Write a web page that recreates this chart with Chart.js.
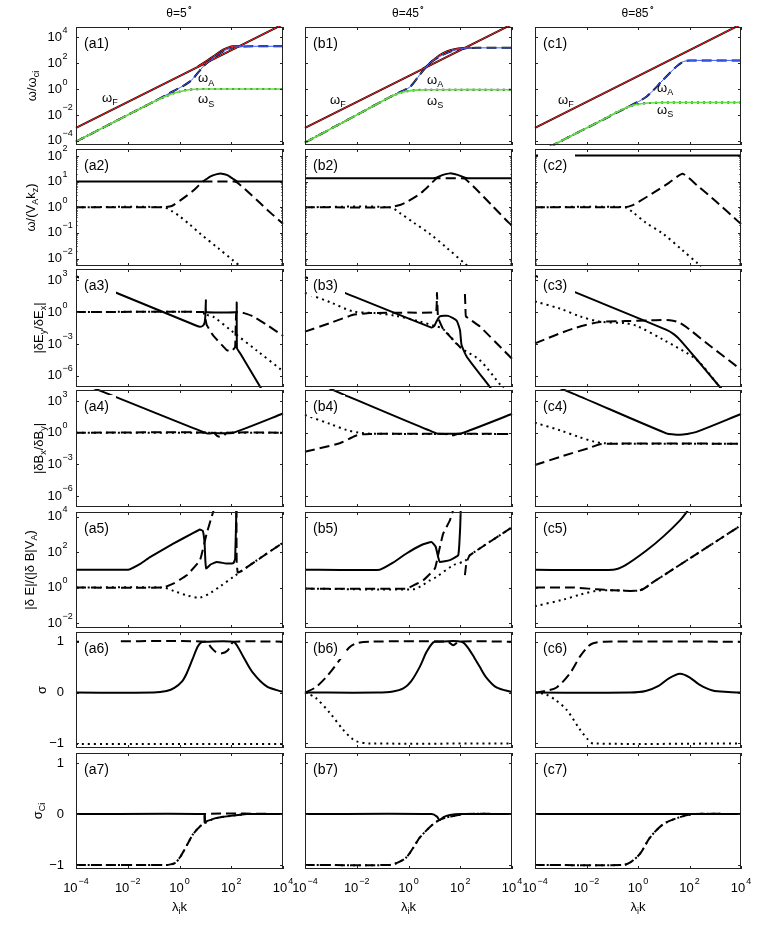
<!DOCTYPE html>
<html>
<head>
<meta charset="utf-8">
<script src="https://cdn.jsdelivr.net/npm/chart.js@4.4.1/dist/chart.umd.min.js"></script>
<style>
  body { margin: 0; background: #fff; }
  #wrap { position: relative; width: 763px; height: 936px; }
  #wrap canvas { position: absolute; left: 0; top: 0; }
</style>
</head>
<body>
<div id="wrap"></div>
<script>
// all series are [log10(lambda_i k), value] ; value is log10(y) on log rows, y on sigma rows
const xTickExp = [-4, -2, 0, 2, 4];
const colTitles = ['θ=5^{∘}', 'θ=45^{∘}', 'θ=85^{∘}'];
const yTitles = ['ω/ω_{ci}', 'ω/(V_{A}k_{z})', '|δE_{y}/δE_{x}|', '|δB_{x}/δB_{y}|',
                 '|δ E|/(|δ B|V_{A})', 'σ', 'σ_{Ci}'];
const rowIsLog = [true, true, true, true, true, false, false];
const yRanges = [[-4.32, 4.79], [-2.29, 2.27], [-7.05, 4.05], [-7.05, 4.05],
                 [-2.28, 4.26], [-1.09, 1.19], [-1.08, 1.2]];
const yTickVals = [[-4, -2, 0, 2, 4], [-2, -1, 0, 1, 2], [-6, -3, 0, 3], [-6, -3, 0, 3],
                   [-2, 0, 2, 4], [-1, 0, 1], [-1, 0, 1]];

// row 1 : omega / omega_ci
const a1Fast = [[-4, -3], [4, 5]];
const a1Bulge = [[0.7, 1.72], [0.86, 1.93], [1.1, 2.24], [1.31, 2.52], [1.5, 2.8], [1.69, 3.04], [1.9, 3.22], [2.08, 3.3], [2.4, 3.31]];
const a1Alfven = [[-4, -4.06], [-2, -2.0], [-1, -0.98], [-0.37, -0.3], [0.41, 0.59], [0.92, 1.75], [1.31, 2.4], [1.69, 2.91], [2.08, 3.22], [2.5, 3.29], [4, 3.3]];
const a1Slow = [[-4, -4.06], [-2, -2.0], [-1, -0.98], [-0.6, -0.62], [-0.3, -0.38], [0, -0.2], [0.3, -0.07], [0.6, -0.02], [1, 0], [4, 0]];
const b1Fast = [[-4, -3], [4, 5]];
const b1Bulge = [[0.55, 1.56], [0.7, 1.76], [0.95, 2.22], [1.21, 2.63], [1.5, 2.92], [1.73, 3.06], [2.12, 3.17], [2.4, 3.18]];
const b1Alfven = [[-4, -4.13], [-2, -2.0], [-0.72, -0.62], [-0.3, -0.2], [0.05, 0.15], [0.44, 1.11], [0.83, 2.01], [1.34, 2.65], [1.86, 3.04], [2.25, 3.16], [2.7, 3.18], [4, 3.18]];
const b1Slow = [[-4, -4.13], [-2, -2.0], [-1, -0.92], [-0.72, -0.62], [-0.4, -0.35], [-0.1, -0.18], [0.3, -0.08], [0.8, -0.05], [4, -0.05]];
const c1Fast = [[-4, -3], [4, 5]];
const c1Alfven = [[-4, -5.05], [-3.29, -4.32], [-0.31, -1.3], [0.34, -0.57], [0.98, 0.72], [1.5, 1.75], [1.76, 2.12], [2.0, 2.2], [2.5, 2.21], [4, 2.21]];
const c1Slow = [[-4, -5.05], [-3.29, -4.32], [-1.5, -2.5], [-1.1, -2.08], [-0.7, -1.66], [-0.3, -1.32], [0, -1.17], [0.4, -1.08], [1, -1.04], [4, -1.04]];

// row 2 : omega / (V_A k_z)
const a2Solid = [[-4, 1.0], [0.8, 1.0], [0.92, 1.02], [1.2, 1.2], [1.45, 1.29], [1.63, 1.31], [1.85, 1.25], [2.05, 1.12], [2.21, 1.02], [2.35, 1.0], [4, 1.0]];
const a2Dashed = [[-4, 0], [-0.62, 0], [-0.3, 0.05], [0.02, 0.26], [0.5, 0.62], [0.92, 1.0], [1.05, 1.0], [2.1, 1.0], [2.21, 0.98], [2.6, 0.64], [3.0, 0.27], [3.5, -0.2], [4, -0.64]];
const a2Dotted = [[-4, 0], [-0.62, 0], [-0.3, -0.15], [0, -0.35], [0.4, -0.68], [0.79, -1.02], [1.5, -1.6], [2.08, -2.08], [2.35, -2.3]];
const b2Solid = [[-4, 1.13], [0.95, 1.13], [1.08, 1.15], [1.3, 1.25], [1.6, 1.32], [1.9, 1.26], [2.18, 1.15], [2.3, 1.13], [4, 1.13]];
const b2Dashed = [[-4, 0], [-0.72, 0], [-0.3, 0.1], [-0.08, 0.2], [0.44, 0.52], [0.8, 0.85], [1.08, 1.12], [1.2, 1.13], [2.05, 1.13], [2.18, 1.11], [2.6, 0.72], [3.2, 0.1], [3.86, -0.59], [4, -0.71]];
const b2Dotted = [[-4, 0], [-0.72, 0], [-0.3, -0.25], [0.2, -0.6], [0.83, -1.04], [1.5, -1.6], [2.18, -2.2], [2.3, -2.3]];
const c2Solid = [[-4, 2.02], [4, 2.02]];
const c2Dashed = [[-4, 0], [-0.51, 0], [-0.2, 0.08], [0.01, 0.2], [0.53, 0.52], [1.2, 0.95], [1.73, 1.31], [2.3, 0.85], [3.0, 0.25], [3.93, -0.59], [4, -0.65]];
const c2Dotted = [[-4, 0], [-0.51, 0], [-0.2, -0.2], [0.3, -0.6], [0.98, -1.04], [1.7, -1.65], [2.33, -2.2], [2.45, -2.3]];

// row 3 : |dEy/dEx|
const a3Solid = [[-4, 3.37], [0.66, -1.29], [0.8, -1.38], [0.9, -1.3], [0.97, -1.0], [1.0, -0.3], [1.02, 1.1], [1.03, 0], [2.2, 0], [2.21, 0.9], [2.22, -3.4], [2.35, -3.9], [3.11, -7.0], [3.3, -7.8]];
const a3Dashed = [[-4, 0], [0.92, 0], [1.0, -0.6], [1.05, -1.2], [1.3, -2.2], [1.82, -3.57], [2.0, -3.7], [2.15, -3.3], [2.2, 0], [2.5, -0.1], [2.85, -0.41], [3.37, -1.2], [3.95, -2.15], [4, -2.25]];
const a3Dotted = [[-4, 0], [0.92, 0], [1.05, -0.26], [1.31, -0.45], [2.0, -1.75], [3.0, -3.65], [3.95, -5.46], [4, -5.55]];
const b3Solid = [[-4, 3.3], [-2.46, 1.8], [0.89, -1.46], [1.0, -1.3], [1.08, -0.89], [1.21, -0.41], [1.53, -0.36], [1.86, -0.8], [1.99, -1.7], [2.05, -3.1], [2.25, -4.2], [3.15, -7.07], [3.3, -7.6]];
const b3Dashed = [[-4, -1.84], [-3.04, -1.04], [-2.14, -0.26], [-1.5, -0.1], [0, -0.05], [1.06, 0], [1.1, 1.8], [1.14, -0.5], [1.34, -1.6], [1.99, -3.3], null, [2.18, 1.7], [2.2, 0.5], [2.22, -0.4], [2.76, -1.36], [3.79, -3.88], [4, -4.4]];
const b3Dotted = [[-4, 1.8], [-3, 0.9], [-2.14, 0.06], [-1.3, -0.1], [-0.5, -0.35], [0.44, -0.89], [1.0, -1.3], [1.34, -1.6], [1.99, -3.3], [2.76, -4.54], [3.6, -7.0], [3.8, -7.5]];
const c3Solid = [[-4, 3.42], [-2.38, 1.8], [1.11, -1.68], [1.4, -2.1], [1.63, -2.62], [2.4, -4.8], [3.18, -7.05], [3.3, -7.4]];
const c3Dashed = [[-4, -2.94], [-2.51, -1.55], [-1.48, -0.94], [-0.5, -0.85], [0.5, -0.78], [1.24, -0.77], [1.6, -1.0], [2.02, -1.68], [2.67, -2.94], [3.83, -5.1], [4, -5.45]];
const c3Dotted = [[-4, 1.0], [-3, 0.3], [-2.25, -0.41], [-1.48, -0.9], [-0.5, -1.05], [-0.05, -1.3], [0.98, -2.6], [2.28, -4.5], [3.06, -6.7], [3.3, -7.4]];

// row 4 : |dBx/dBy|
const a4Solid = [[-4, 4.9], [-2.81, 3.73], [1.05, -0.06], [1.3, -0.04], [2.08, 0], [3.95, 1.77], [4, 1.82]];
const a4Dashed = [[-4, 0], [1.3, 0], [1.45, -0.3], [1.57, -0.38], [1.72, -0.25], [1.85, 0], [4, 0]];
const a4Dotted = [[-4, 0], [4, 0]];
const b4Solid = [[-4, 5.2], [-2.46, 3.57], [1.08, -0.06], [1.5, -0.1], [2.05, -0.06], [3.99, 1.77], [4, 1.78]];
const b4Dashed = [[-4, -1.8], [-2.66, -1.0], [-2.01, -0.26], [-1.5, -0.12], [1.4, -0.12], [1.6, -0.22], [1.75, -0.25], [1.9, -0.12], [4, -0.12]];
const b4Dotted = [[-4, 1.68], [-3, 0.8], [-2.4, 0.26], [-1.9, 0], [-1.4, -0.1], [4, -0.12]];
const c4Solid = [[-4, 5.2], [-2.38, 3.57], [1.1, -0.06], [1.4, -0.17], [1.63, -0.2], [1.9, -0.12], [2.3, 0.1], [4, 1.77]];
const c4Dashed = [[-4, -3.06], [-2.9, -2.2], [-1.86, -1.42], [-1.48, -1.1], [-1.0, -1.04], [4, -1.04]];
const c4Dotted = [[-4, 0.95], [-3, 0.2], [-2.3, -0.4], [-1.7, -0.85], [-1.3, -1.0], [-0.8, -1.04], [4, -1.04]];

// row 5 : |dE|/(|dB| V_A)
const a5Solid = [[-4, 1.01], [-1.98, 1.01], [-1.5, 1.35], [-1.14, 1.72], [-0.24, 2.48], [0.5, 3.05], [0.79, 3.27], [0.9, 3.2], [0.97, 2.5], [1.0, 1.5], [1.03, 1.07], [1.2, 1.3], [1.44, 1.44], [1.8, 1.36], [2.08, 1.38], [2.15, 1.6], [2.2, 4.5]];
const a5Dashed = [[-4, 0], [-0.63, 0], [-0.2, 0.25], [0.28, 0.69], [0.79, 1.54], [1.05, 3.04], [1.24, 3.98], [1.35, 4.5], null, [2.2, 4.5], [2.21, 1.4], [2.25, 0.85], [2.33, 0.88], [3.95, 2.48], [4, 2.53]];
const a5Dotted = [[-4, 0], [-0.63, 0], [-0.2, -0.2], [0.3, -0.45], [0.79, -0.56], [1.2, -0.3], [1.6, 0.1], [2.08, 0.6], [3.0, 1.55], [3.95, 2.48], [4, 2.53]];
const b5Solid = [[-4, 1.01], [-1.11, 1.01], [-0.6, 1.4], [-0.08, 1.92], [0.5, 2.4], [0.89, 2.57], [1.05, 2.3], [1.15, 1.7], [1.21, 1.44], [1.6, 1.55], [1.92, 1.82], [1.97, 2.6], [2.0, 3.5], [2.02, 4.5]];
const b5Dashed = [[-4, -0.06], [-0.08, -0.06], [0.3, 0.2], [0.57, 0.41], [1.02, 1.07], [1.2, 2.2], [1.34, 3.04], [1.6, 3.79], [1.75, 4.5], null, [2.18, 0.7], [2.24, 1.4], [2.37, 1.82], [3.92, 3.32], [4, 3.4]];
const b5Dotted = [[-4, -0.06], [0.18, -0.1], [0.5, 0.1], [0.83, 0.41], [1.08, 0.6], [1.73, 1.26], [2.18, 1.5], [2.37, 1.82], [3.92, 3.32], [4, 3.4]];
const c5Solid = [[-4, 1.01], [-0.96, 1.01], [-0.5, 1.25], [0.34, 2.1], [1.0, 2.9], [1.63, 3.79], [1.89, 4.26], [2.0, 4.5]];
const c5Dashed = [[-4, 0], [-2.51, 0], [-1.6, -0.1], [-1, -0.15], [0.08, -0.15], [0.6, 0.32], [4, 3.51]];
const c5Dotted = [[-4, -1.05], [-2.9, -0.68], [-2.25, -0.4], [-1.6, -0.18], [-1, -0.15], [0.08, -0.15], [0.6, 0.32], [4, 3.51]];

// row 6 : sigma
const a6Solid = [[-4, 0], [-1, 0], [-0.5, 0.03], [-0.2, 0.09], [0.1, 0.22], [0.28, 0.38], [0.5, 0.65], [0.7, 0.9], [0.85, 0.99], [1.0, 1.0], [2.08, 1.0], [2.25, 0.9], [2.47, 0.7], [2.85, 0.38], [3.37, 0.12], [3.95, 0.02], [4, 0.02]];
const a6Dashed = [[-4, 1], [1.05, 1], [1.2, 0.9], [1.4, 0.8], [1.63, 0.77], [1.85, 0.82], [2.0, 0.95], [2.1, 1], [4, 1]];
const a6Dotted = [[-4, -1.01], [4, -1.01]];
const b6Solid = [[-4, 0], [-1.2, 0], [-0.6, 0.02], [-0.2, 0.08], [0.1, 0.22], [0.44, 0.51], [0.7, 0.8], [0.96, 0.99], [1.1, 1.0], [2.05, 1.0], [2.3, 0.88], [2.55, 0.68], [2.76, 0.5], [3.0, 0.3], [3.4, 0.1], [3.99, 0.01]];
const b6Dashed = [[-4, 0], [-3.6, 0.1], [-3.17, 0.31], [-2.66, 0.64], [-2.3, 0.88], [-2.01, 0.97], [-1.5, 1.0], [1.5, 1.0], [1.73, 0.93], [1.95, 1.0], [4, 1.0]];
const b6Dotted = [[-4, 0], [-3.6, -0.1], [-3.04, -0.4], [-2.53, -0.73], [-2.2, -0.9], [-2.01, -0.96], [-1.5, -1.0], [4, -1.0]];
const c6Solid = [[-4, 0], [-0.31, 0], [0.3, 0.03], [0.8, 0.13], [1.2, 0.28], [1.63, 0.37], [2.0, 0.3], [2.4, 0.15], [2.9, 0.04], [3.5, 0.01], [4, 0]];
const c6Dashed = [[-4, 0], [-3.6, 0.03], [-3.16, 0.1], [-2.64, 0.38], [-2.25, 0.71], [-1.95, 0.9], [-1.74, 0.97], [-1.3, 1.0], [4, 1.0]];
const c6Dotted = [[-4, 0], [-3.6, -0.03], [-3.2, -0.15], [-2.77, -0.34], [-2.25, -0.73], [-1.95, -0.92], [-1.74, -1.0], [4, -1.0]];

// row 7 : sigma_Ci
const a7Solid = [[-4, 0], [0.97, 0], [0.98, -0.17], [1.0, -0.15], [1.05, -0.14], [1.4, -0.08], [2.08, -0.03], [2.6, 0], [4, 0]];
const a7Dashed = [[-4, -1], [-0.5, -1], [-0.2, -0.97], [0.02, -0.85], [0.3, -0.6], [0.53, -0.39], [0.8, -0.24], [0.97, -0.18], [0.98, 0], [4, 0]];
const a7Dotted = [[-4, -1], [-0.5, -1], [-0.2, -0.97], [0.02, -0.85], [0.3, -0.6], [0.53, -0.39], [0.8, -0.24], [1.05, -0.16], [1.4, -0.08], [2.08, -0.03], [2.6, 0], [4, 0]];
const b7Solid = [[-4, 0], [0.9, 0], [1.1, -0.05], [1.21, -0.12], [1.35, -0.06], [1.6, -0.02], [2, 0], [4, 0]];
const b7Curve = [[-4, -1], [-0.72, -1], [-0.4, -0.95], [-0.08, -0.85], [0.2, -0.65], [0.44, -0.46], [0.95, -0.2], [1.3, -0.09], [1.73, -0.04], [2.2, 0], [4, 0]];
const c7Solid = [[-4, 0], [4, 0]];
const c7Curve = [[-4, -1], [-0.57, -1], [-0.3, -0.95], [0.08, -0.78], [0.47, -0.46], [0.98, -0.2], [1.63, -0.06], [2.2, 0], [4, 0]];

// mode labels in row 1: text, x, y (pixels)
const modeLabels = [
  [['ω_{F}', 102, 98], ['ω_{A}', 198, 78.5], ['ω_{S}', 198, 99.5]],
  [['ω_{F}', 330, 100], ['ω_{A}', 427, 80], ['ω_{S}', 427, 101]],
  [['ω_{F}', 558, 100], ['ω_{A}', 657, 88], ['ω_{S}', 657, 110]]
];

// layout in pixels
const W = 763, H = 936;
const colX = [[76, 283], [305, 512], [535, 741]];
const rowY = [[27, 145], [149, 266], [269, 387], [390, 507], [512, 628], [632, 748], [753, 869]];
const yTitleX = [32, 31, 39, 39, 30, 42, 38];
const FONT = '"Liberation Sans", Arial, Helvetica, sans-serif';

const styles = {
  solid: { c: '#000', w: 2, d: [] },
  dash:  { c: '#000', w: 2, d: [10, 5] },
  dot:   { c: '#000', w: 2, d: [2, 4] },
  red:   { c: '#ff2020', w: 1, d: [] },
  blue:  { c: '#3a5cff', w: 1, d: [] },
  green: { c: '#60e040', w: 1.6, d: [] }
};

const panels = [
  { r: 0, c: 0, tag: '(a1)', lines: [[a1Fast, 'solid'], [a1Bulge, 'solid'], [a1Alfven, 'dash'], [a1Slow, 'dot'], [a1Fast, 'red'], [a1Bulge, 'red'], [a1Alfven, 'blue'], [a1Slow, 'green']] },
  { r: 0, c: 1, tag: '(b1)', lines: [[b1Fast, 'solid'], [b1Bulge, 'solid'], [b1Alfven, 'dash'], [b1Slow, 'dot'], [b1Fast, 'red'], [b1Bulge, 'red'], [b1Alfven, 'blue'], [b1Slow, 'green']] },
  { r: 0, c: 2, tag: '(c1)', lines: [[c1Fast, 'solid'], [c1Alfven, 'dash'], [c1Slow, 'dot'], [c1Fast, 'red'], [c1Alfven, 'blue'], [c1Slow, 'green']] },
  { r: 1, c: 0, tag: '(a2)', lines: [[a2Solid, 'solid', 0.2], [a2Dashed, 'dash', 0.2], [a2Dotted, 'dot']] },
  { r: 1, c: 1, tag: '(b2)', lines: [[b2Solid, 'solid', 0.2], [b2Dashed, 'dash', 0.2], [b2Dotted, 'dot']] },
  { r: 1, c: 2, tag: '(c2)', lines: [[c2Solid, 'solid'], [c2Dashed, 'dash', 0.15], [c2Dotted, 'dot']] },
  { r: 2, c: 0, tag: '(a3)', lines: [[a3Solid, 'solid', 0.08], [a3Dashed, 'dash', 0.1], [a3Dotted, 'dot']] },
  { r: 2, c: 1, tag: '(b3)', lines: [[b3Solid, 'solid', 0.15], [b3Dashed, 'dash', 0.08], [b3Dotted, 'dot']] },
  { r: 2, c: 2, tag: '(c3)', lines: [[c3Solid, 'solid'], [c3Dashed, 'dash'], [c3Dotted, 'dot']] },
  { r: 3, c: 0, tag: '(a4)', lines: [[a4Solid, 'solid', 0.15], [a4Dashed, 'dash'], [a4Dotted, 'dot']] },
  { r: 3, c: 1, tag: '(b4)', lines: [[b4Solid, 'solid', 0.15], [b4Dashed, 'dash'], [b4Dotted, 'dot']] },
  { r: 3, c: 2, tag: '(c4)', lines: [[c4Solid, 'solid'], [c4Dashed, 'dash'], [c4Dotted, 'dot']] },
  { r: 4, c: 0, tag: '(a5)', lines: [[a5Solid, 'solid', 0.1], [a5Dashed, 'dash', 0.1], [a5Dotted, 'dot']] },
  { r: 4, c: 1, tag: '(b5)', lines: [[b5Solid, 'solid', 0.12], [b5Dashed, 'dash', 0.1], [b5Dotted, 'dot']] },
  { r: 4, c: 2, tag: '(c5)', lines: [[c5Solid, 'solid'], [c5Dashed, 'dash'], [c5Dotted, 'dot']] },
  { r: 5, c: 0, tag: '(a6)', lines: [[a6Solid, 'solid'], [a6Dashed, 'dash'], [a6Dotted, 'dot']] },
  { r: 5, c: 1, tag: '(b6)', lines: [[b6Solid, 'solid'], [b6Dashed, 'dash'], [b6Dotted, 'dot']] },
  { r: 5, c: 2, tag: '(c6)', lines: [[c6Solid, 'solid'], [c6Dashed, 'dash'], [c6Dotted, 'dot']] },
  { r: 6, c: 0, tag: '(a7)', lines: [[a7Solid, 'solid', 0.1], [a7Dashed, 'dash', 0.15], [a7Dotted, 'dot']] },
  { r: 6, c: 1, tag: '(b7)', lines: [[b7Solid, 'solid'], [b7Curve, 'dash'], [b7Curve, 'dot']] },
  { r: 6, c: 2, tag: '(c7)', lines: [[c7Solid, 'solid'], [c7Curve, 'dash'], [c7Curve, 'dot']] }
];

function toPoints(arr, logY) {
  return arr.map((p, i) => {
    if (p === null) return { x: Math.pow(10, arr[i - 1][0]), y: null };
    return { x: Math.pow(10, p[0]), y: logY ? Math.pow(10, p[1]) : p[1] };
  });
}

// text with _{sub} and ^{sup}
function richParts(s) {
  const out = [];
  let buf = '', i = 0;
  while (i < s.length) {
    const ch = s[i];
    if ((ch === '_' || ch === '^') && s[i + 1] === '{') {
      if (buf) { out.push({ t: buf, k: 0 }); buf = ''; }
      const j = s.indexOf('}', i);
      out.push({ t: s.slice(i + 2, j), k: ch === '_' ? -1 : 1 });
      i = j + 1;
    } else { buf += ch; i++; }
  }
  if (buf) out.push({ t: buf, k: 0 });
  return out;
}

function drawRich(ctx, s, x, y, size, align, rot) {
  const parts = richParts(s);
  const small = Math.round(size * 0.72);
  let total = 0;
  parts.forEach(p => {
    ctx.font = (p.k ? small : size) + 'px ' + FONT;
    p.w = ctx.measureText(p.t).width;
    total += p.w;
  });
  ctx.save();
  ctx.translate(x, y);
  if (rot) ctx.rotate(rot);
  let cx = align === 'center' ? -total / 2 : (align === 'right' ? -total : 0);
  ctx.textAlign = 'left';
  ctx.textBaseline = 'middle';
  ctx.fillStyle = '#000';
  parts.forEach(p => {
    ctx.font = (p.k ? small : size) + 'px ' + FONT;
    const dy = p.k === 1 ? -size * 0.45 : (p.k === -1 ? size * 0.35 : 0);
    ctx.fillText(p.t, cx, dy);
    cx += p.w;
  });
  ctx.restore();
}

function expText(e) { return e < 0 ? '−' + (-e) : String(e); }

function framePlugin(panel) {
  return {
    id: 'frame' + panel.r + panel.c,
    afterDatasetsDraw(chart) {
      const ctx = chart.ctx;
      const a = chart.chartArea;
      const xs = chart.scales.x, ys = chart.scales.y;
      const isLog = rowIsLog[panel.r];
      const yVal = v => isLog ? Math.pow(10, v) : v;
      ctx.save();

      // panel tag on a white box
      ctx.fillStyle = '#fff';
      ctx.fillRect(a.left + 3, a.top + 5, 37, 22);
      ctx.fillStyle = '#000';
      ctx.font = '14px ' + FONT;
      ctx.textAlign = 'left';
      ctx.textBaseline = 'middle';
      ctx.fillText(panel.tag, a.left + 8, a.top + 17.5);

      // box
      ctx.strokeStyle = '#222';
      ctx.lineWidth = 1;
      ctx.setLineDash([]);
      ctx.strokeRect(a.left + 0.5, a.top + 0.5, a.right - a.left - 1, a.bottom - a.top - 1);

      // inward ticks
      ctx.beginPath();
      xTickExp.forEach(e => {
        const px = Math.round(xs.getPixelForValue(Math.pow(10, e))) + 0.5;
        ctx.moveTo(px, a.bottom); ctx.lineTo(px, a.bottom - 3);
        ctx.moveTo(px, a.top); ctx.lineTo(px, a.top + 3);
      });
      yTickVals[panel.r].forEach(v => {
        const py = Math.round(ys.getPixelForValue(yVal(v))) + 0.5;
        ctx.moveTo(a.left, py); ctx.lineTo(a.left + 3, py);
        ctx.moveTo(a.right, py); ctx.lineTo(a.right - 3, py);
      });
      if (panel.r === 1) {
        for (let e = -3; e <= 2; e++) {
          for (let m = 2; m <= 9; m++) {
            const v = m * Math.pow(10, e);
            if (Math.log10(v) < yRanges[1][0] || Math.log10(v) > yRanges[1][1]) continue;
            const py = Math.round(ys.getPixelForValue(v)) + 0.5;
            ctx.moveTo(a.left, py); ctx.lineTo(a.left + 1.6, py);
            ctx.moveTo(a.right, py); ctx.lineTo(a.right - 1.6, py);
          }
        }
      }
      ctx.stroke();

      ctx.fillStyle = '#000';
      // y tick labels on the left column
      if (panel.c === 0) {
        yTickVals[panel.r].forEach(v => {
          const py = ys.getPixelForValue(yVal(v));
          if (isLog) {
            ctx.font = '13px ' + FONT;
            ctx.textAlign = 'right';
            ctx.fillText('10', a.left - 14, py);
            ctx.font = '9px ' + FONT;
            ctx.textAlign = 'left';
            ctx.fillText(expText(v), a.left - 13.5, py - 7);
          } else {
            ctx.font = '13px ' + FONT;
            ctx.textAlign = 'right';
            ctx.fillText(v < 0 ? '−' + (-v) : String(v), a.left - 12, py);
          }
        });
        drawRich(ctx, yTitles[panel.r], yTitleX[panel.r], (a.top + a.bottom) / 2, 13, 'center', -Math.PI / 2);
      }
      // x tick labels and title on the bottom row
      if (panel.r === 6) {
        xTickExp.forEach(e => {
          const px = xs.getPixelForValue(Math.pow(10, e));
          ctx.font = '13px ' + FONT;
          const w10 = ctx.measureText('10').width;
          ctx.font = '9px ' + FONT;
          const ws = ctx.measureText(expText(e)).width;
          const x0 = px - (w10 + 1 + ws) / 2;
          ctx.textAlign = 'left';
          ctx.font = '13px ' + FONT;
          ctx.fillText('10', x0, a.bottom + 19.5);
          ctx.font = '9px ' + FONT;
          ctx.fillText(expText(e), x0 + w10 + 1, a.bottom + 12.5);
        });
        drawRich(ctx, 'λ_{i}k', (a.left + a.right) / 2, a.bottom + 38, 13, 'center', 0);
      }
      // column titles and mode names
      if (panel.r === 0) {
        drawRich(ctx, colTitles[panel.c], (a.left + a.right) / 2, 14, 12, 'center', 0);
        modeLabels[panel.c].forEach(m => drawRich(ctx, m[0], m[1], m[2], 13, 'left', 0));
      }
      ctx.restore();
    }
  };
}

const wrap = document.getElementById('wrap');
panels.forEach(panel => {
  const cv = document.createElement('canvas');
  cv.width = W; cv.height = H;
  cv.style.width = W + 'px'; cv.style.height = H + 'px';
  wrap.appendChild(cv);
  const [x0, x1] = colX[panel.c];
  const [y0, y1] = rowY[panel.r];
  const isLog = rowIsLog[panel.r];
  const yr = yRanges[panel.r];
  const n = panel.lines.length;
  const datasets = panel.lines.map((ln, i) => {
    const st = styles[ln[1]];
    return {
      data: toPoints(ln[0], isLog),
      borderColor: st.c,
      borderWidth: st.w,
      borderDash: st.d,
      borderCapStyle: 'butt',
      pointRadius: 0,
      fill: false,
      spanGaps: false,
      tension: ln[2] !== undefined ? ln[2] : 0.3,
      clip: 1,
      order: n - i
    };
  });
  new Chart(cv, {
    type: 'line',
    data: { datasets: datasets },
    options: {
      responsive: false,
      animation: false,
      devicePixelRatio: 1,
      events: [],
      layout: { padding: { left: x0, right: W - x1, top: y0, bottom: H - y1 } },
      plugins: { legend: { display: false }, tooltip: { enabled: false } },
      scales: {
        x: { type: 'logarithmic', min: 1e-4, max: 1e4, display: false },
        y: isLog
          ? { type: 'logarithmic', min: Math.pow(10, yr[0]), max: Math.pow(10, yr[1]), display: false }
          : { type: 'linear', min: yr[0], max: yr[1], display: false }
      }
    },
    plugins: [framePlugin(panel)]
  });
});
</script>
</body>
</html>
